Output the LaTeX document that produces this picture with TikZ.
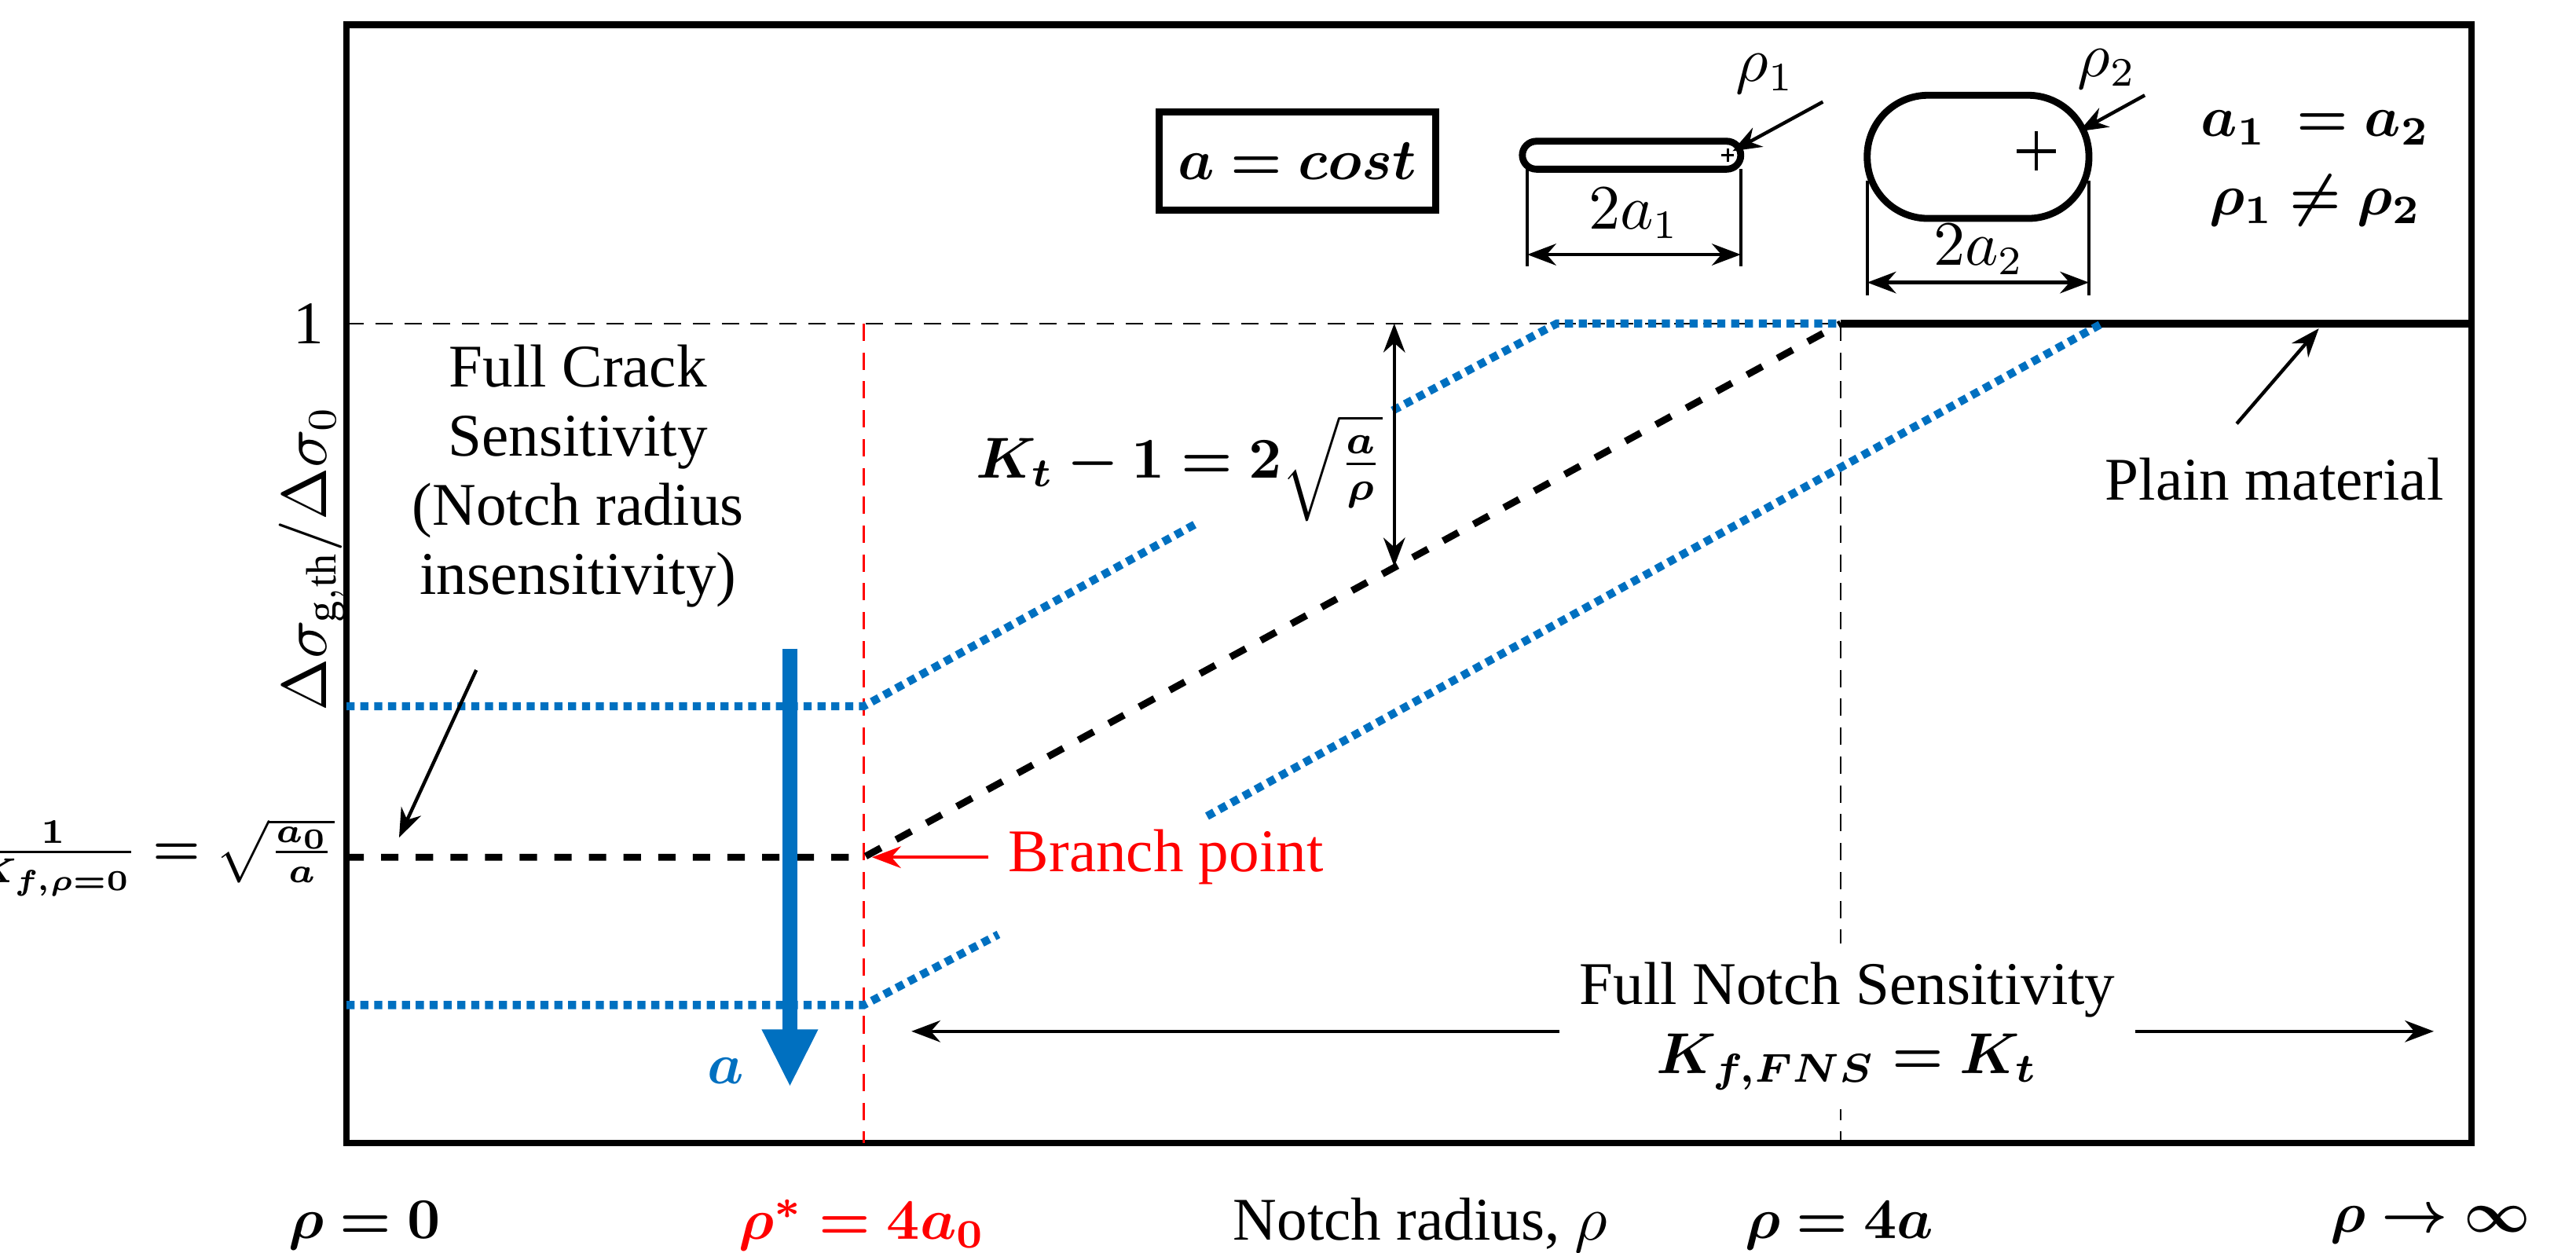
\documentclass[tikz,border=0pt]{standalone}
\usepackage{amsmath,bm}
\usepackage{fontspec}
\setmainfont{Liberation Serif}
\usetikzlibrary{arrows.meta}
\definecolor{bl}{RGB}{0,112,192}
\begin{document}
\begin{tikzpicture}[x=0.1mm,y=-0.1mm,font=\fontsize{10.5}{12}\selectfont,
 thin dash/.style={densely dashed,line width=0.3pt},
 bdash/.style={dashed,line width=1.2pt},
 bdot/.style={bl,densely dotted,line width=1.4pt},
 arr/.style={-{Stealth[length=5pt]},line width=0.6pt},
 dbl/.style={{Stealth[length=5pt]}-{Stealth[length=5pt]},line width=0.6pt},
 mth/.style={font=\fontsize{10}{12}\selectfont}]
\useasboundingbox (0,0) rectangle (1568.6,763);
\draw[line width=1.2pt] (211,15) rectangle (1505,696);
% guides
\draw[thin dash] (211,197) -- (1121,197);
\draw[red,thin dash] (526,197) -- (526,696);
\draw[thin dash] (1121,197) -- (1121,696);
\draw[line width=1.4pt] (1121,197) -- (1505,197);
% curves
\draw[bdash] (211,522) -- (526,522) -- (1121,197);
\draw[bdot] (211,430) -- (526,430) -- (730,318);
\draw[bdot] (848,250) -- (948,197) -- (1121,197);
\draw[bdot] (211,612) -- (526,612) -- (608,569);
\draw[bdot] (735,497) -- (1280,197);
% blue arrow
\coordinate (ba1) at (481,395); \coordinate (ba2) at (481,662);
\draw[bl,line width=2.5pt,-{Triangle[length=10pt,width=9pt]}] (ba1) -- (ba2);
\node[bl,mth] (alab) at (442,652) {$\bm{a}$};
% Kt
\coordinate (k1) at (849,197); \coordinate (k2) at (849,345);
\draw[dbl] (k1) -- (k2);
\node[mth] (kt) at (718,285) {$\bm{K_t-1=2\sqrt{\frac{a}{\rho}}}$};
% labels
\node (one) at (188,197) {1};
\node[rotate=90] (ylab) at (190,340) {$\Delta\sigma_{\mathrm{g,th}}/\Delta\sigma_0$};
\node[font=\fontsize{9}{11}\selectfont,anchor=east,inner sep=1pt] (kf) at (208,522) {$\bm{\frac{1}{K_{f,\rho=0}}=\sqrt{\frac{a_0}{a}}}$};
\node[align=center] (fcs) at (352,290) {Full Crack\\ Sensitivity\\ (Notch radius\\ insensitivity)};
\coordinate (fa) at (290,408); \coordinate (fb) at (243,510);
\draw[arr] (fa) -- (fb);
\node[red] (bp) at (710,522) {Branch point};
\coordinate (bpe) at (531,522);
\draw[arr,red] (bp.west) -- (bpe);
\node[align=center,fill=white] (fns) at (1125,625) {Full Notch Sensitivity\\ \fontsize{10}{12}\selectfont $\bm{K_{f,FNS}=K_t}$};
\coordinate (n1) at (555,628); \coordinate (n2) at (1482,628);
\draw[arr] (fns.west|-n1) -- (n1);
\draw[arr] (fns.east|-n2) -- (n2);
\node (pm) at (1385,292) {Plain material};
\coordinate (pmt) at (1412,200);
\draw[arr] (1362,258) -- (pmt);
% bottom
\node[mth] (r0) at (222,746) {$\bm{\rho=0}$};
\node[red,mth] (rs) at (525,746) {$\bm{\rho^{*}=4a_0}$};
\node (nr) at (865,746) {Notch radius, $\rho$};
\node[mth] (r4) at (1120,746) {$\bm{\rho=4a}$};
\node[mth] (ri) at (1480,746) {$\bm{\rho\rightarrow\infty}$};
% top
\node[draw,line width=1.2pt,minimum width=15mm,minimum height=6mm,mth] (box) at (790,98) {$\bm{a=cost}$};
\draw[line width=1.2pt,rounded corners=0.85mm] (927,86) rectangle (1060,103);
\draw[line width=0.4pt] (1048,94.5) -- +(8,0) (1052,90.5) -- +(0,8);
\draw[line width=0.6pt] (930,103) -- (930,162) (1060,103) -- (1060,162);
\coordinate (d1a) at (930,155); \coordinate (d1b) at (1060,155);
\draw[dbl] (d1a) -- (d1b);
\node (l1) at (995,130) {$2a_1$};
\node (p1) at (1075,45) {$\rho_1$};
\coordinate (p1t) at (1055,92);
\draw[arr] (1110,62) -- (p1t);
\draw[line width=1.2pt,rounded corners=3.7mm] (1137,58) rectangle (1272,133);
\draw[line width=0.6pt] (1228,92) -- (1252,92) (1240,80) -- (1240,104);
\draw[line width=0.6pt] (1137,110) -- (1137,180) (1272,110) -- (1272,180);
\coordinate (d2a) at (1137,172); \coordinate (d2b) at (1272,172);
\draw[dbl] (d2a) -- (d2b);
\node (l2) at (1205,152) {$2a_2$};
\node (p2) at (1283,42) {$\rho_2$};
\coordinate (p2t) at (1266,80);
\draw[arr] (1306,58) -- (p2t);
\node[mth] (aa) at (1410,78) {$\bm{a_1\ =a_2}$};
\node[mth] (rr) at (1410,122) {$\bm{\rho_1\neq\rho_2}$};
\end{tikzpicture}
\end{document}
